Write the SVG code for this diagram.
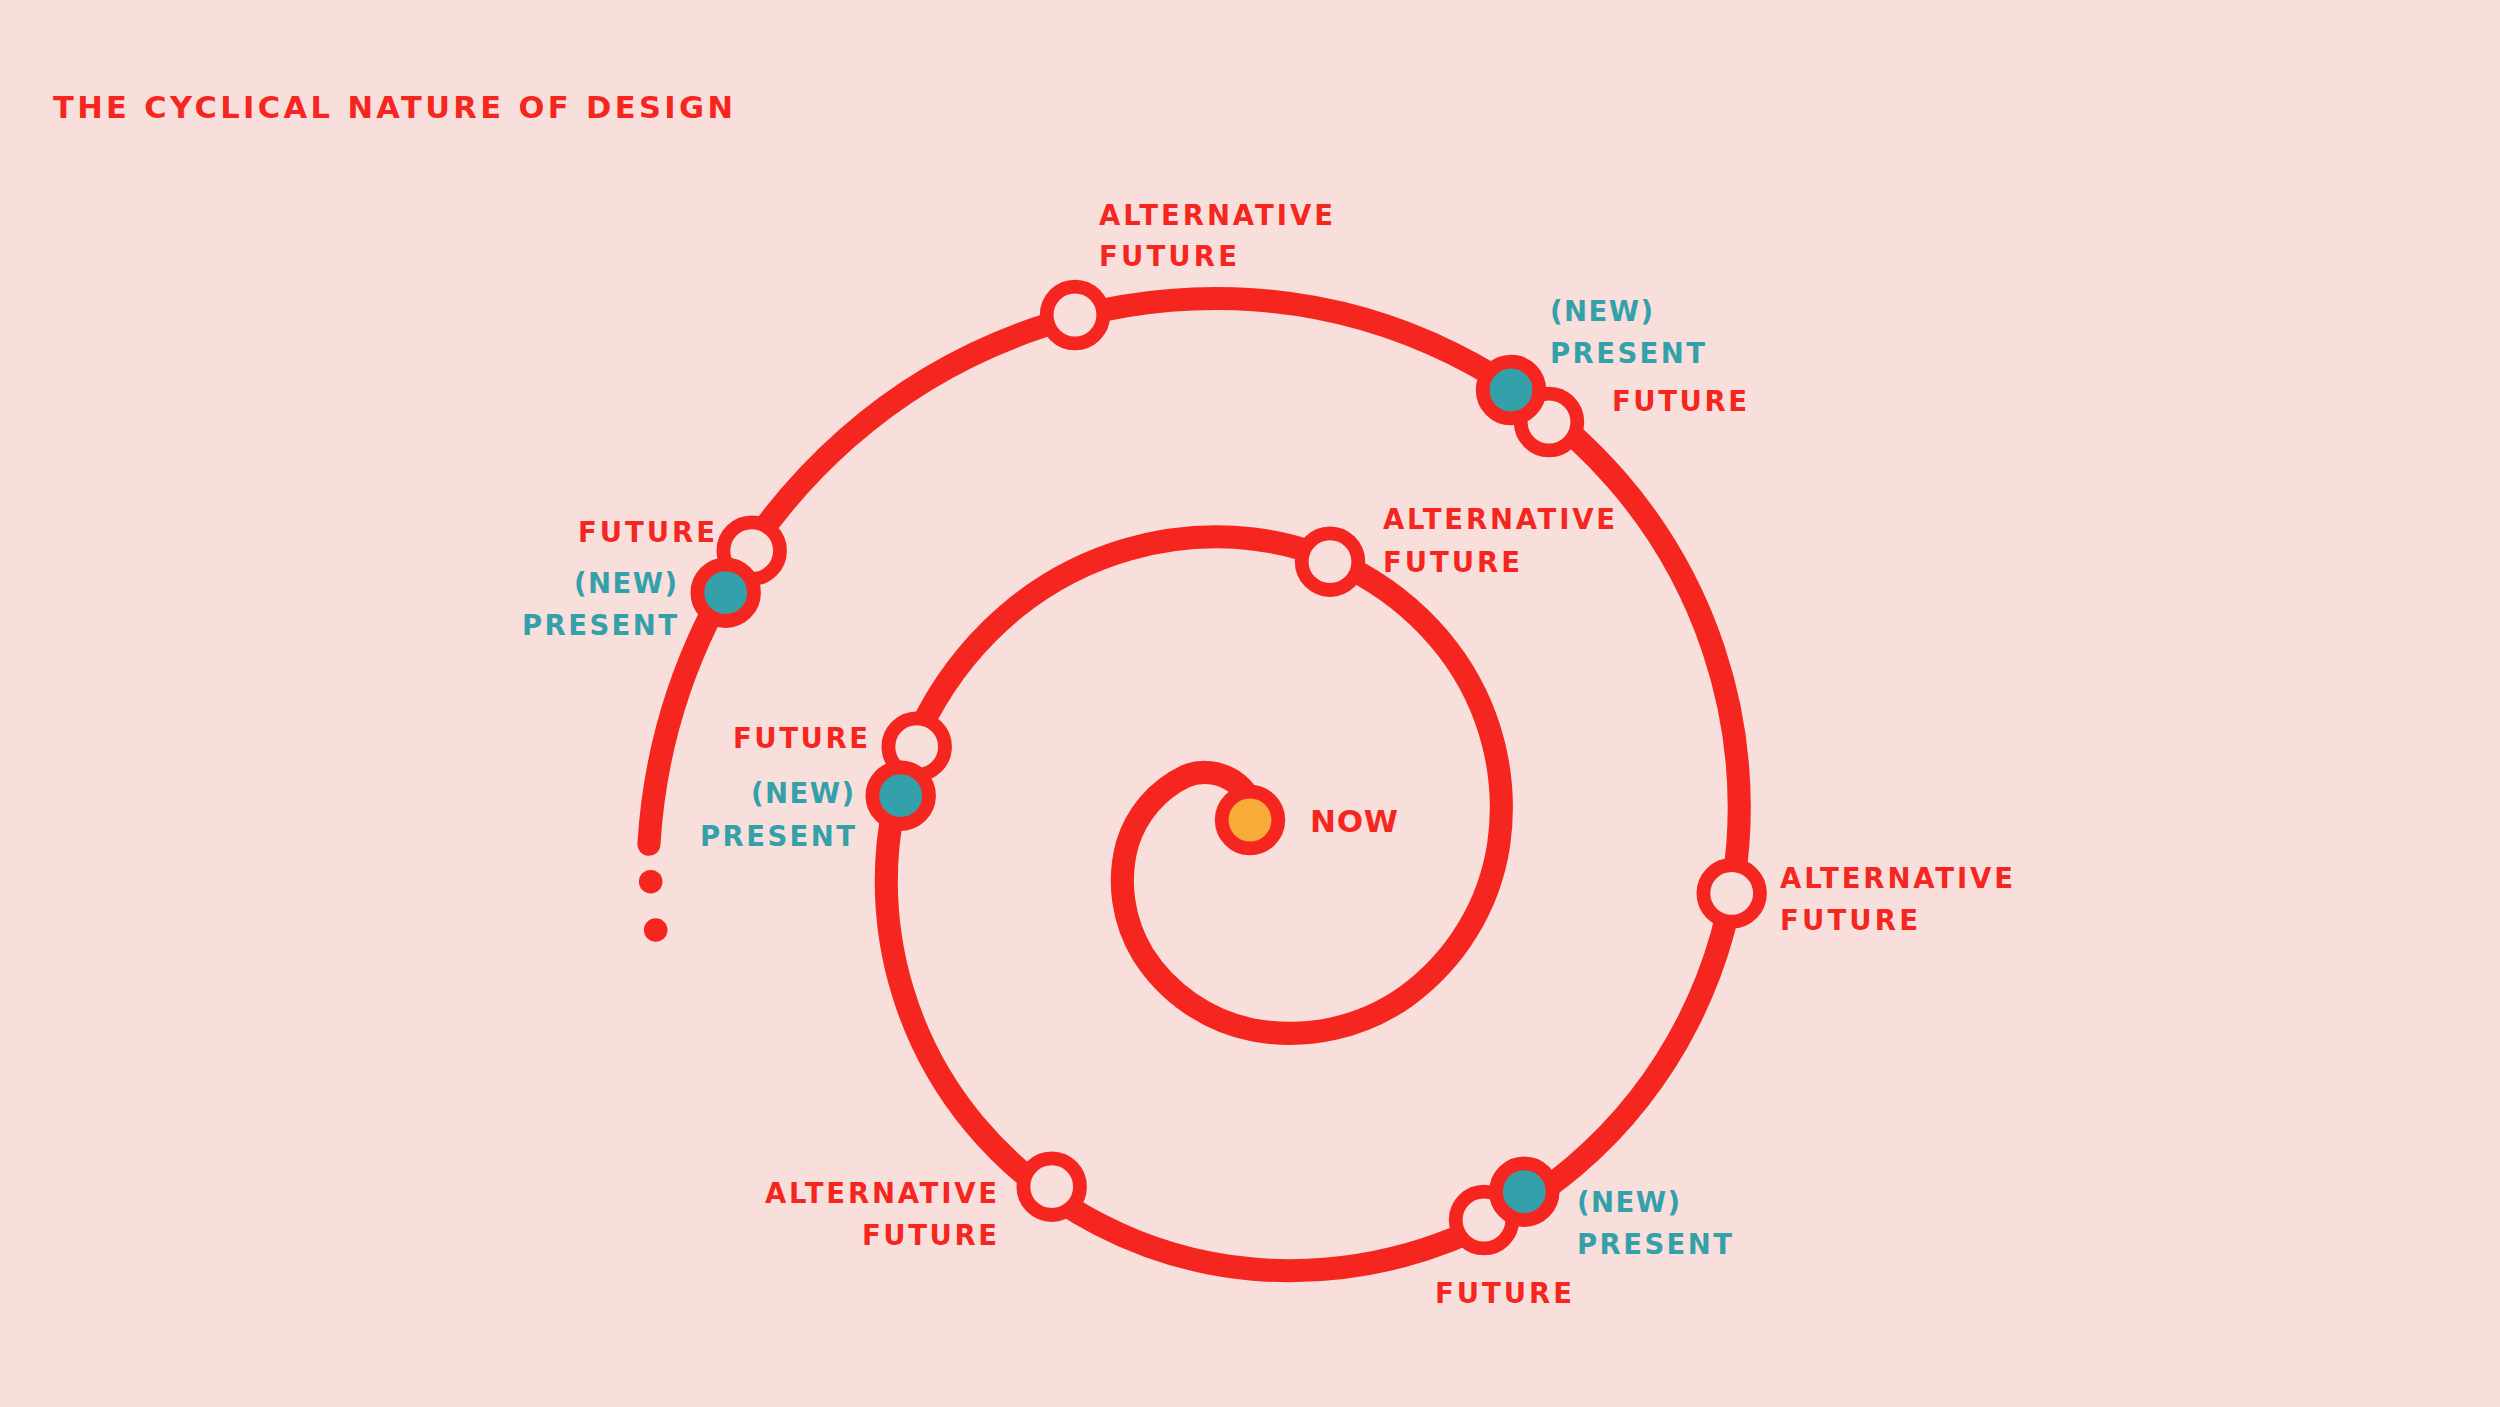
<svg xmlns="http://www.w3.org/2000/svg" width="2500" height="1407" viewBox="0 0 2500 1407">
<style>
.bg{fill:#f9dfdc}
.sp{fill:none;stroke:#f52620;stroke-width:14.5;stroke-linecap:round;stroke-linejoin:round}
.dot{fill:#f52620}
.ring{stroke:#f52620;stroke-width:13.8}
.open{fill:#f9dfdc}
.pres{fill:#34a0aa}
.now{fill:#f7ac3a}
text{font-family:"DejaVu Sans","Liberation Sans",Arial,sans-serif;font-weight:700;font-size:27.5px}
.r{fill:#f52620}
.t{fill:#34a0aa}
</style>
<rect class="bg" x="0" y="0" width="2500" height="1407"/>
<text id="title" class="r" x="53" y="118" style="font-size:30.5px" textLength="680" lengthAdjust="spacing">THE CYCLICAL NATURE OF DESIGN</text>
<g id="connectors">
<g transform="scale(1.59439)">
<path class="sp" d="M 785 514 C 789 494 763.6 478.2 743.4 486.9 A 69.6 69.6 0 0 0 707 529.5 A 88.4 88.4 0 0 0 716.88 598.62 A 107.1 107.1 0 0 0 786 646 A 125.9 125.9 0 0 0 881.64 625.14 A 144.6 144.6 0 0 0 940 529.5 A 163.4 163.4 0 0 0 908.15 407.35 A 182.1 182.1 0 0 0 786 338 A 200.9 200.9 0 0 0 637.33 380.83 A 219.6 219.6 0 0 0 557 529.5 A 238.4 238.4 0 0 0 610.82 704.68 A 257.1 257.1 0 0 0 786 796 A 275.9 275.9 0 0 0 987.7 731.2 A 294.6 294.6 0 0 0 1090 529.5 A 313.4 313.4 0 0 0 1014.22 301.28 A 332.1 332.1 0 0 0 786 188 A 350.9 350.9 0 0 0 531.26 274.76 A 369.6 369.6 0 0 0 407 529.5"/>
</g>
<circle class="dot" cx="650.7" cy="881.7" r="11.8"/>
<circle class="dot" cx="655.7" cy="930" r="11.8"/>
</g>
<g id="node-now">
<circle class="ring now" cx="1250" cy="820" r="28.3"/>
<text class="r" x="1310" y="832" style="font-size:31px" textLength="88" lengthAdjust="spacing">NOW</text>
</g>
<g id="node-alt-inner">
<circle class="ring open" cx="1330" cy="561.7" r="28.3"/>
<text class="r" x="1383" y="529" textLength="232" lengthAdjust="spacing">ALTERNATIVE</text>
<text class="r" x="1383" y="572" textLength="137" lengthAdjust="spacing">FUTURE</text>
</g>
<g id="node-pair-inner-left">
<circle class="ring open" cx="916.7" cy="746.7" r="28.3"/>
<circle class="ring pres" cx="900.7" cy="795.7" r="28.3"/>
<text class="r" x="733" y="748" textLength="135" lengthAdjust="spacing">FUTURE</text>
<text class="t" x="751" y="803" textLength="103" lengthAdjust="spacing">(NEW)</text>
<text class="t" x="700" y="846" textLength="155" lengthAdjust="spacing">PRESENT</text>
</g>
<g id="node-alt-bottom-left">
<circle class="ring open" cx="1051.7" cy="1186.7" r="28.3"/>
<text class="r" x="765" y="1203" textLength="232" lengthAdjust="spacing">ALTERNATIVE</text>
<text class="r" x="862" y="1245" textLength="135" lengthAdjust="spacing">FUTURE</text>
</g>
<g id="node-pair-bottom-right">
<circle class="ring open" cx="1484" cy="1220" r="28.3"/>
<circle class="ring pres" cx="1524.3" cy="1191.7" r="28.3"/>
<text class="t" x="1577" y="1212" textLength="103" lengthAdjust="spacing">(NEW)</text>
<text class="t" x="1577" y="1254" textLength="155" lengthAdjust="spacing">PRESENT</text>
<text class="r" x="1435" y="1303" textLength="137" lengthAdjust="spacing">FUTURE</text>
</g>
<g id="node-alt-right">
<circle class="ring open" cx="1731.7" cy="893.3" r="28.3"/>
<text class="r" x="1780" y="888" textLength="233" lengthAdjust="spacing">ALTERNATIVE</text>
<text class="r" x="1780" y="930" textLength="138" lengthAdjust="spacing">FUTURE</text>
</g>
<g id="node-pair-top-right">
<circle class="ring open" cx="1549" cy="422" r="28.3"/>
<circle class="ring pres" cx="1511" cy="390" r="28.3"/>
<text class="t" x="1550" y="321" textLength="103" lengthAdjust="spacing">(NEW)</text>
<text class="t" x="1550" y="363" textLength="155" lengthAdjust="spacing">PRESENT</text>
<text class="r" x="1612" y="411" textLength="135" lengthAdjust="spacing">FUTURE</text>
</g>
<g id="node-alt-top">
<circle class="ring open" cx="1075" cy="315" r="28.3"/>
<text class="r" x="1099" y="225" textLength="234" lengthAdjust="spacing">ALTERNATIVE</text>
<text class="r" x="1099" y="266" textLength="138" lengthAdjust="spacing">FUTURE</text>
</g>
<g id="node-pair-top-left">
<circle class="ring open" cx="751.7" cy="550.7" r="28.3"/>
<circle class="ring pres" cx="725.7" cy="592.7" r="28.3"/>
<text class="r" x="578" y="542" textLength="137" lengthAdjust="spacing">FUTURE</text>
<text class="t" x="574" y="593" textLength="103" lengthAdjust="spacing">(NEW)</text>
<text class="t" x="522" y="635" textLength="155" lengthAdjust="spacing">PRESENT</text>
</g>
</svg>
